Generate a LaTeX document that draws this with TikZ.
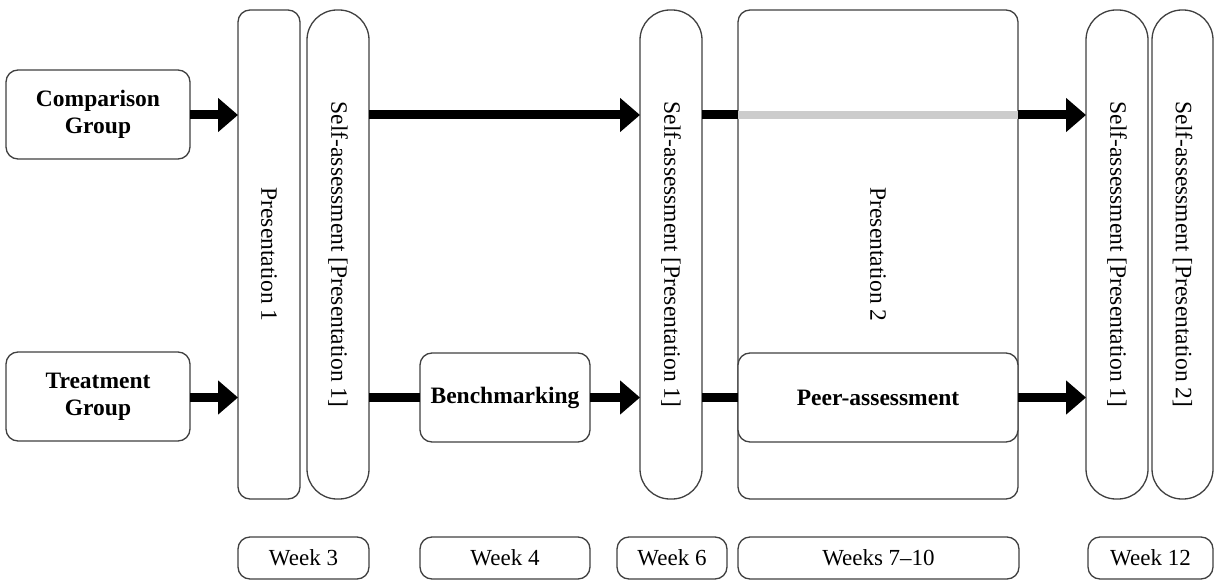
\documentclass[tikz,border=0pt]{standalone}
\usepackage{fontspec}
\setmainfont{Liberation Serif}
\usetikzlibrary{arrows.meta}
\begin{document}
\begin{tikzpicture}[x=1pt,y=-1pt,
  box/.style={draw=black!75, line width=1.3pt, rounded corners=12pt, inner sep=0pt, outer sep=0pt, fill=white, align=center},
  pill/.style={box, rounded corners=30pt},
  boldtxt/.style={font=\fontsize{23.5}{27}\selectfont\bfseries},
  vtxt/.style={font=\fontsize{23.5}{27}\selectfont},
  weektxt/.style={font=\fontsize{23}{26}\selectfont},
  flow/.style={line width=9pt, -{Triangle[width=33pt,length=20pt]}},
  link/.style={line width=9pt},
  faint/.style={line width=8pt, draw=black!20}]
\useasboundingbox (0,0) rectangle (1215,580);

% group boxes
\node[box, boldtxt, minimum width=184pt, minimum height=89pt] (cmp) at (98,114.5) {Comparison\\Group};
\node[box, boldtxt, minimum width=184pt, minimum height=89pt] (trt) at (98,396.5) {Treatment\\Group};

% tall boxes
\node[box, vtxt, minimum width=62pt, minimum height=489pt] (p1) at (269,254.5) {\rotatebox{-90}{Presentation 1}};
\node[pill, vtxt, minimum width=62pt, minimum height=489pt] (sa1) at (338,254.5) {\rotatebox{-90}{Self-assessment [Presentation 1]}};
\node[pill, vtxt, minimum width=62pt, minimum height=489pt] (sa2) at (671,254.5) {\rotatebox{-90}{Self-assessment [Presentation 1]}};
\node[box, vtxt, minimum width=280pt, minimum height=489pt] (p2) at (878,254.5) {\rotatebox{-90}{Presentation 2}};
\node[pill, vtxt, minimum width=62pt, minimum height=489pt] (sa3) at (1117,254.5) {\rotatebox{-90}{Self-assessment [Presentation 1]}};
\node[pill, vtxt, minimum width=61pt, minimum height=489pt] (sa4) at (1182.5,254.5) {\rotatebox{-90}{Self-assessment [Presentation 2]}};

% activity boxes
\node[box, boldtxt, minimum width=170pt, minimum height=89pt] (bench) at (505,397.5) {Benchmarking};
\node[box, boldtxt, minimum width=280pt, minimum height=89pt] (peer) at (878,397.5) {Peer-assessment};

% week labels
\node[box, weektxt, minimum width=131pt, minimum height=42pt] (w3) at (303.5,558) {Week 3};
\node[box, weektxt, minimum width=170pt, minimum height=42pt] (w4) at (505,558) {Week 4};
\node[box, weektxt, minimum width=110pt, minimum height=42pt] (w6) at (672,558) {Week 6};
\node[box, weektxt, minimum width=281pt, minimum height=42pt] (w710) at (878.5,558) {Weeks 7--10};
\node[box, weektxt, minimum width=125pt, minimum height=42pt] (w12) at (1150.5,558) {Week 12};

% comparison row
\coordinate (rc) at (0,115);
\draw[flow] (cmp.east |- rc) -- (p1.west |- rc);
\draw[flow] (sa1.east |- rc) -- (sa2.west |- rc);
\draw[link] (sa2.east |- rc) -- (p2.west |- rc);
\draw[faint] (p2.west |- rc) -- (p2.east |- rc);
\draw[flow] (p2.east |- rc) -- (sa3.west |- rc);

% treatment row
\coordinate (rt) at (0,397.5);
\draw[flow] (trt.east |- rt) -- (p1.west |- rt);
\draw[link] (sa1.east |- rt) -- (bench.west |- rt);
\draw[flow] (bench.east |- rt) -- (sa2.west |- rt);
\draw[link] (sa2.east |- rt) -- (peer.west |- rt);
\draw[flow] (peer.east |- rt) -- (sa3.west |- rt);
\end{tikzpicture}
\end{document}
